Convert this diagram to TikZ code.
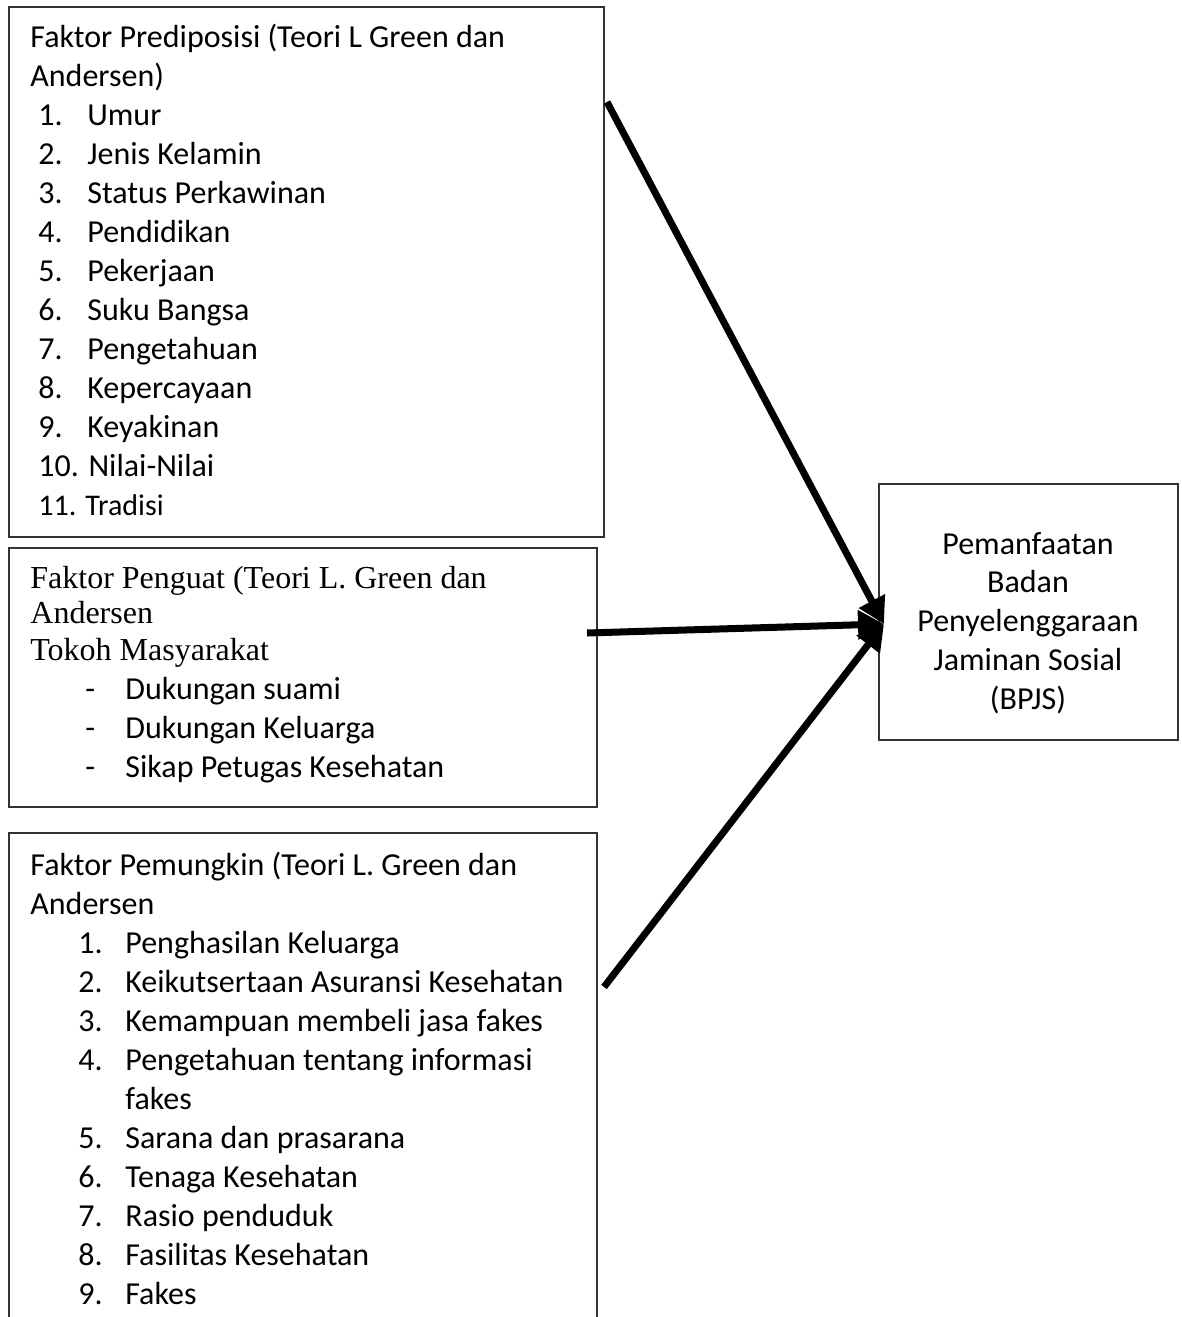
\documentclass[tikz,border=0pt]{standalone}
\usepackage{fontspec}
\setmainfont{Carlito}
\newfontfamily\timesfont{Liberation Serif}
\usetikzlibrary{arrows.meta,fit}

\tikzset{
  box/.style={draw=black!80, line width=0.7pt, inner sep=0pt},
  txt/.style={anchor=base west, inner sep=0pt, font=\fontsize{16}{19.5}\selectfont},
  rom/.style={anchor=base west, inner sep=0pt, font=\timesfont\fontsize{16}{18}\selectfont},
  link/.style={line width=3.5pt, -{Triangle[length=13pt,width=14pt]}},
}

\begin{document}
\begin{tikzpicture}[x=0.5pt, y=-0.5pt]
\useasboundingbox (0,0) rectangle (1182,1317);
\clip (0,0) rectangle (1182,1317);

% ================= BOXES =================
\node[box, fit={(9,7) (604,537)}] (pre) {};
\node[box, fit={(9,548) (597,807)}] (pengu) {};
\node[box, fit={(9,833) (597,1340)}] (pemu) {};
\node[box, fit={(879,484) (1178,740)}] (bpjs) {};

% ================= PREDISPOSISI =================
\node[txt] (pre-t1) at (30,47) {Faktor Prediposisi (Teori L Green dan};
\node[txt] (pre-t2) at (30,86) {Andersen)};
\foreach \lbl [count=\k] in {Umur, Jenis Kelamin, Status Perkawinan, Pendidikan,
    Pekerjaan, Suku Bangsa, Pengetahuan, Kepercayaan, Keyakinan}
  \node[txt] (pre-\k) at (38,86+39*\k) {\makebox[24.5pt][l]{\k.}\lbl};
\node[txt] (pre-10) at (38,476) {10. Nilai-Nilai};
\node[txt, font=\fontsize{15}{19.5}\selectfont] (pre-11) at (38,515) {11. Tradisi};

% ================= PENGUAT =================
\node[rom] (pengu-t1) at (30,588) {Faktor Penguat (Teori L. Green dan};
\node[rom] (pengu-t2) at (30,623) {Andersen};
\node[rom] (pengu-t3) at (30,660) {Tokoh Masyarakat};
\foreach \lbl/\y [count=\k] in {Dukungan suami/699, Dukungan Keluarga/738,
    Sikap Petugas Kesehatan/777}
  \node[txt] (pengu-\k) at (85,\y) {\makebox[20pt][l]{-}\lbl};

% ================= PEMUNGKIN =================
\node[txt] (pemu-t1) at (30,875) {Faktor Pemungkin (Teori L. Green dan};
\node[txt] (pemu-t2) at (30,914) {Andersen};
\foreach \n/\lbl/\y in {1/Penghasilan Keluarga/953, 2/Keikutsertaan Asuransi Kesehatan/992,
    3/Kemampuan membeli jasa fakes/1031, 4/Pengetahuan tentang informasi/1070,
    5/Sarana dan prasarana/1148, 6/Tenaga Kesehatan/1187, 7/Rasio penduduk/1226,
    8/Fasilitas Kesehatan/1265, 9/Fakes/1304}
  \node[txt] (pemu-\n) at (78,\y) {\makebox[23.5pt][l]{\n.}\lbl};
\node[txt] (pemu-4b) at (125,1109) {fakes};

% ================= BPJS =================
\node[align=center, inner sep=0pt, font=\fontsize{16}{19.4}\selectfont] (bpjs-txt) at (1028,623)
  {Pemanfaatan\\Badan\\Penyelenggaraan\\Jaminan Sosial\\(BPJS)};

% ================= ARROWS =================
\coordinate (from-pre) at (607,102);
\coordinate (from-pengu) at (587,633);
\coordinate (from-pemu) at (604,987);
\coordinate (hit) at (884,624);
\draw[link] (from-pre) -- (hit);
\draw[link] (from-pengu) -- (hit);
\draw[link] (from-pemu) -- (hit);

\end{tikzpicture}
\end{document}
